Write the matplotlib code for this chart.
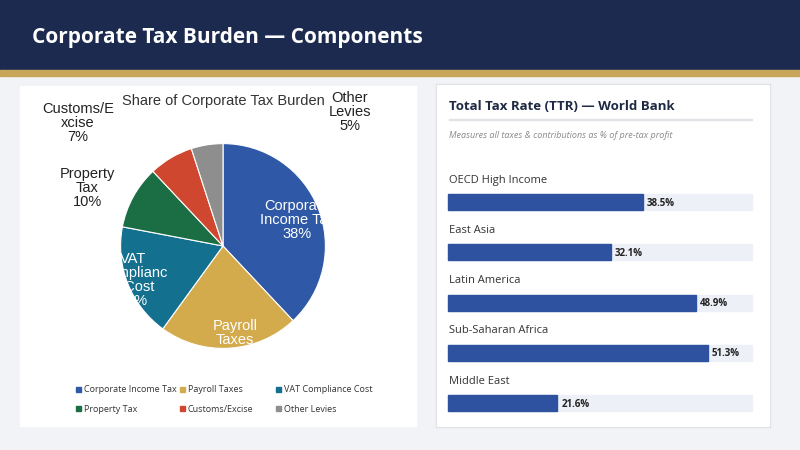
import matplotlib.pyplot as plt
from matplotlib.patches import Rectangle

# datos del grafico
componentes = ["Corporate Income Tax", "Payroll Taxes", "VAT Compliance Cost",
               "Property Tax", "Customs/Excise", "Other Levies"]
etiquetas_pie = ["Corporate\nIncome Tax\n38%", "Payroll\nTaxes\n22%", "VAT\nComplianc\ne Cost\n18%",
                 "Property\nTax\n10%", "Customs/E\nxcise\n7%", "Other\nLevies\n5%"]
shares = [38, 22, 18, 10, 7, 5]
colores = ["#2f59a6", "#d4ab4c", "#14708f", "#1b6e44", "#d0472f", "#8e8e8e"]

regiones = ["OECD High Income", "East Asia", "Latin America", "Sub-Saharan Africa", "Middle East"]
ttr = [38.5, 32.1, 48.9, 51.3, 21.6]
escala_max = 60

W, H = 800, 450
fig = plt.figure(figsize=(8, 4.5), dpi=100)
fig.patch.set_facecolor("#f2f3f6")

def caja(x, y, w, h, zorder=-1, **kw):
    # rectangulo en pixeles, y desde arriba
    fig.patches.append(Rectangle((x / W, 1 - (y + h) / H), w / W, h / H,
                                 transform=fig.transFigure, zorder=zorder, **kw))

def texto(x, y, s, **kw):
    fig.text(x / W, 1 - y / H, s, zorder=4, **kw)

# encabezado
caja(0, 0, 800, 70, color="#1b2a4e")
caja(0, 70, 800, 6, color="#c9a55a")
texto(32, 38, "Corporate Tax Burden — Components", color="white", fontsize=15,
      fontweight="bold", va="center", family="Open Sans")

# paneles
caja(20, 86, 396, 340, color="white", zorder=-2)
caja(436, 84, 334, 343, color="#dcdde2", zorder=-3)
caja(437, 85, 332, 341, color="white", zorder=-2)

# grafico de torta
ax = fig.add_axes([(223 - 128) / W, 1 - (246 + 128) / H, 256 / W, 256 / H])
ax.set_zorder(1)
ax.patch.set_visible(False)
ax.pie(shares, colors=colores, startangle=90, counterclock=False,
       wedgeprops=dict(edgecolor="white", linewidth=0.8))
ax.set_aspect("equal")
posiciones = [(297, 220, "white"), (235, 340, "white"), (133, 280, "white"),
              (87, 188, "#222222"), (78, 123, "#222222"), (350, 112, "#222222")]
for etq, (px, py, c) in zip(etiquetas_pie, posiciones):
    texto(px, py, etq, color=c, fontsize=10.5, ha="center", va="center",
          family="Liberation Sans", linespacing=1.0)
texto(223, 101, "Share of Corporate Tax Burden", fontsize=10.5, ha="center", va="center",
      family="Liberation Sans", color="#333333")

# leyenda
leg_pos = [(76, 390), (180, 390), (276, 390), (76, 409), (180, 409), (276, 409)]
for nombre, col, (lx, ly) in zip(componentes, colores, leg_pos):
    caja(lx, ly - 3, 5, 5, zorder=2, color=col)
    texto(lx + 8, ly, nombre, fontsize=6.5, va="center", color="#333333", family="Open Sans")

# panel derecho
texto(449, 106, "Total Tax Rate (TTR) — World Bank", fontsize=9.5, fontweight="bold",
      va="center", color="#1e2a44", family="Open Sans")
caja(449, 119, 303, 1, zorder=0, color="#e2e3e8")
texto(449, 135, "Measures all taxes & contributions as % of pre-tax profit", fontsize=6.5,
      style="italic", va="center", color="#8a8a8a", family="Open Sans")

ancho = 752 - 448
for i, (reg, v) in enumerate(zip(regiones, ttr)):
    y0 = 180 + i * 50.3
    texto(449, y0, reg, fontsize=8, va="center", color="#333333", family="Open Sans")
    caja(448, y0 + 14, ancho, 16, zorder=0, color="#eef0f7")
    bw = ancho * v / escala_max
    caja(448, y0 + 14, bw, 16, zorder=1, color="#2e52a0")
    texto(448 + bw + 4, y0 + 23, f"{v}%", fontsize=7, fontweight="bold", va="center",
          color="#222222", family="Open Sans")

fig.savefig("out.png", dpi=100)
